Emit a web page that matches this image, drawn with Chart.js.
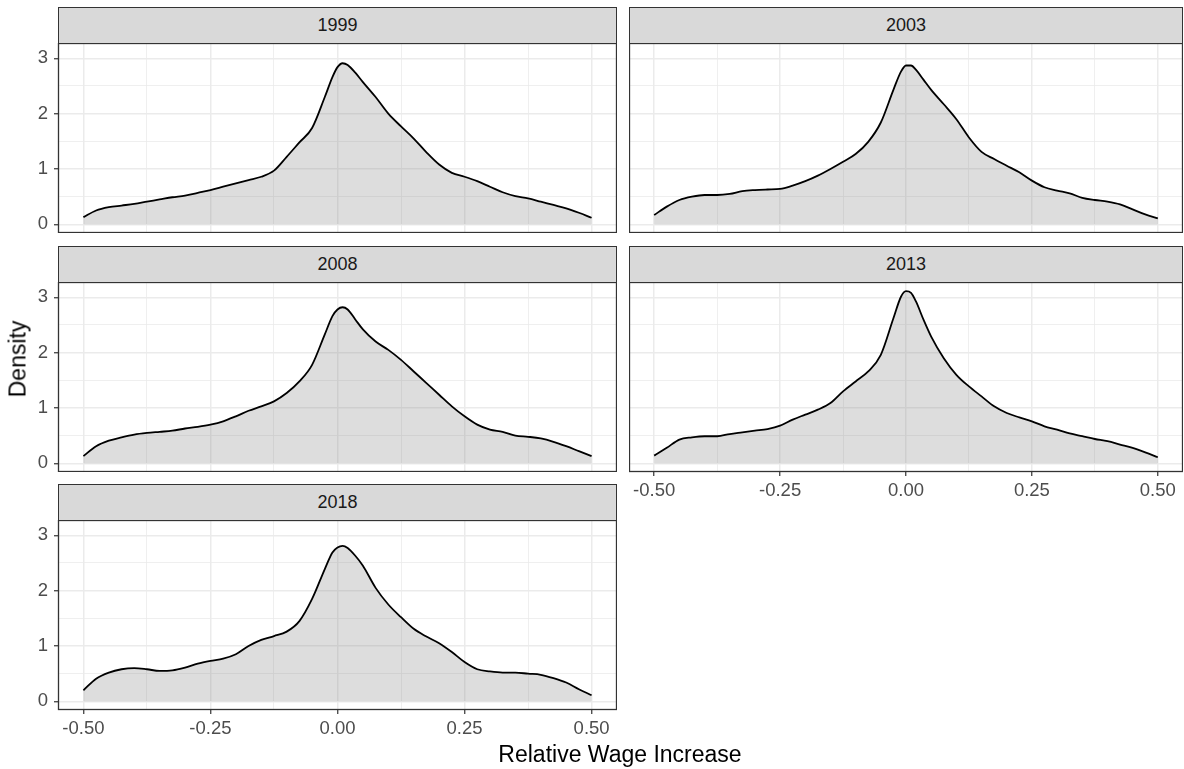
<!DOCTYPE html>
<html>
<head>
<meta charset="utf-8">
<script src="https://cdn.jsdelivr.net/npm/chart.js@4.4.1/dist/chart.umd.min.js"></script>
<style>
  body { margin: 0; background: #fff; font-family: "Liberation Sans", Arial, sans-serif; }
  #wrap { position: relative; width: 1184px; height: 769px; overflow: hidden; }
  canvas { position: absolute; }
  .strip { position: absolute; box-sizing: border-box; background: #d9d9d9; border: 1.3px solid #333;
           color: #1a1a1a; font-size: 18px; text-align: center; line-height: 34px; }
  .title { position: absolute; color: #000; font-size: 23px; white-space: nowrap; }
</style>
</head>
<body>
<div id="wrap"></div>
<script>
const xGrid = [-0.5, -0.475, -0.45, -0.425, -0.4, -0.375, -0.35, -0.325, -0.3, -0.275, -0.25, -0.225,
  -0.2, -0.175, -0.15, -0.125, -0.1, -0.075, -0.05, -0.025, -0.01, 0, 0.01, 0.02, 0.035, 0.05, 0.075,
  0.1, 0.125, 0.15, 0.175, 0.2, 0.225, 0.25, 0.275, 0.3, 0.325, 0.35, 0.375, 0.4, 0.425, 0.45, 0.475, 0.5];

const years = ['1999', '2003', '2008', '2013', '2018'];

const d1999 = [0.13, 0.25, 0.31, 0.34, 0.37, 0.41, 0.45, 0.49, 0.52, 0.57, 0.62, 0.68, 0.74, 0.80, 0.86,
  0.97, 1.22, 1.48, 1.74, 2.30, 2.66, 2.84, 2.91, 2.88, 2.74, 2.57, 2.30, 2.00, 1.77, 1.55, 1.30, 1.08,
  0.93, 0.86, 0.78, 0.68, 0.58, 0.51, 0.47, 0.41, 0.35, 0.29, 0.21, 0.12];
const d2003 = [0.17, 0.32, 0.44, 0.50, 0.53, 0.53, 0.55, 0.60, 0.62, 0.63, 0.64, 0.70, 0.78, 0.88, 1.00,
  1.13, 1.27, 1.49, 1.84, 2.43, 2.76, 2.87, 2.87, 2.79, 2.61, 2.43, 2.17, 1.90, 1.57, 1.31, 1.18, 1.06,
  0.94, 0.79, 0.67, 0.61, 0.56, 0.48, 0.44, 0.41, 0.36, 0.27, 0.18, 0.11];
const d2008 = [0.13, 0.31, 0.41, 0.47, 0.52, 0.55, 0.57, 0.59, 0.63, 0.66, 0.70, 0.76, 0.85, 0.95, 1.03,
  1.12, 1.27, 1.48, 1.78, 2.33, 2.66, 2.78, 2.82, 2.78, 2.60, 2.42, 2.20, 2.05, 1.87, 1.66, 1.45, 1.24,
  1.03, 0.85, 0.70, 0.61, 0.57, 0.50, 0.48, 0.45, 0.39, 0.31, 0.22, 0.13];
const d2013 = [0.14, 0.28, 0.43, 0.47, 0.49, 0.49, 0.53, 0.56, 0.59, 0.62, 0.68, 0.79, 0.88, 0.97, 1.09,
  1.30, 1.48, 1.66, 1.96, 2.62, 3.01, 3.11, 3.08, 2.92, 2.59, 2.29, 1.90, 1.60, 1.39, 1.21, 1.03, 0.91,
  0.83, 0.76, 0.67, 0.61, 0.54, 0.49, 0.44, 0.40, 0.34, 0.28, 0.20, 0.11];
const d2018 = [0.20, 0.41, 0.52, 0.58, 0.60, 0.58, 0.55, 0.56, 0.61, 0.68, 0.73, 0.77, 0.85, 1.00, 1.11,
  1.18, 1.26, 1.45, 1.85, 2.39, 2.69, 2.78, 2.81, 2.77, 2.63, 2.45, 2.05, 1.75, 1.52, 1.31, 1.17, 1.05,
  0.89, 0.71, 0.58, 0.54, 0.52, 0.52, 0.50, 0.48, 0.42, 0.34, 0.22, 0.11];

const xTicks = [-0.5, -0.375, -0.25, -0.125, 0, 0.125, 0.25, 0.375, 0.5];
const xMajor = [-0.5, -0.25, 0, 0.25, 0.5];
const yTicks = [0, 0.5, 1, 1.5, 2, 2.5, 3];
const yMajor = [0, 1, 2, 3];

const series = [d1999, d2003, d2008, d2013, d2018];

// layout of the facets (pixels)
const colLeft = [58, 629];
const colWidth = [559, 554];
const rowTop = [43, 282, 520];
const plotH = 190;
const stripH = 36;
const yAxisW = 58;
const xAxisH = 34;
const tickFont = { family: '"Liberation Sans", Arial, sans-serif', size: 18.5 };

const wrap = document.getElementById('wrap');

const panelBorder = {
  id: 'panelBorder',
  afterDraw(chart) {
    const { ctx, chartArea: a } = chart;
    ctx.save();
    ctx.strokeStyle = '#333333';
    ctx.lineWidth = 1.3;
    ctx.strokeRect(a.left + 0.5, a.top + 0.5, a.right - a.left - 1, a.bottom - a.top - 1);
    ctx.restore();
  }
};

function gridWidth(major) {
  return c => (c.tick && major.includes(c.tick.value)) ? 1.5 : 0.8;
}
function tickCol(major) {
  return c => (c.tick && major.includes(c.tick.value)) ? '#333333' : 'rgba(0,0,0,0)';
}

years.forEach((year, i) => {
  const col = i % 2;
  const row = Math.floor(i / 2);
  const showY = col === 0;
  const showX = (year === '2018' || year === '2013');
  const yw = showY ? yAxisW : 0;
  const xh = showX ? xAxisH : 0;

  const strip = document.createElement('div');
  strip.className = 'strip';
  strip.style.left = colLeft[col] + 'px';
  strip.style.top = (rowTop[row] - stripH) + 'px';
  strip.style.width = colWidth[col] + 'px';
  strip.style.height = (stripH + 1) + 'px';
  strip.textContent = year;
  wrap.appendChild(strip);

  const cv = document.createElement('canvas');
  cv.width = colWidth[col] + yw;
  cv.height = plotH + xh;
  cv.style.left = (colLeft[col] - yw) + 'px';
  cv.style.top = rowTop[row] + 'px';
  wrap.appendChild(cv);

  new Chart(cv, {
    type: 'line',
    data: {
      datasets: [{
        data: xGrid.map((x, k) => ({ x: x, y: series[i][k] })),
        borderColor: '#000000',
        borderWidth: 1.8,
        backgroundColor: 'rgba(128,128,128,0.27)',
        fill: 'origin',
        pointRadius: 0,
        cubicInterpolationMode: 'monotone'
      }]
    },
    options: {
      responsive: false,
      animation: false,
      devicePixelRatio: 1,
      layout: { padding: 0 },
      plugins: { legend: { display: false }, tooltip: { enabled: false } },
      scales: {
        x: {
          type: 'linear',
          min: -0.55,
          max: 0.55,
          afterBuildTicks: s => { s.ticks = xTicks.map(v => ({ value: v })); },
          afterFit: s => { s.height = xh; s.paddingLeft = 0; s.paddingRight = 0; },
          border: { display: false },
          grid: {
            color: '#ebebeb',
            lineWidth: gridWidth(xMajor),
            drawTicks: showX,
            tickLength: 4,
            tickColor: tickCol(xMajor),
            tickWidth: 1.2
          },
          ticks: {
            display: showX,
            autoSkip: false,
            maxRotation: 0,
            padding: 4,
            color: '#4d4d4d',
            font: tickFont,
            callback: v => xMajor.includes(v) ? v.toFixed(2) : ''
          }
        },
        y: {
          min: -0.156,
          max: 3.276,
          afterBuildTicks: s => { s.ticks = yTicks.map(v => ({ value: v })); },
          afterFit: s => { s.width = yw; s.paddingTop = 0; s.paddingBottom = 0; },
          border: { display: false },
          grid: {
            color: '#ebebeb',
            lineWidth: gridWidth(yMajor),
            drawTicks: showY,
            tickLength: 4,
            tickColor: tickCol(yMajor),
            tickWidth: 1.2
          },
          ticks: {
            display: showY,
            padding: 6,
            color: '#4d4d4d',
            font: tickFont,
            callback: v => yMajor.includes(v) ? String(v) : ''
          }
        }
      }
    },
    plugins: [panelBorder]
  });
});

const yTitle = document.createElement('div');
yTitle.className = 'title';
yTitle.textContent = 'Density';
yTitle.style.left = '18px';
yTitle.style.top = '359px';
yTitle.style.transform = 'translate(-50%, -50%) rotate(-90deg)';
wrap.appendChild(yTitle);

const xTitle = document.createElement('div');
xTitle.className = 'title';
xTitle.textContent = 'Relative Wage Increase';
xTitle.style.left = '620px';
xTitle.style.top = '754px';
xTitle.style.transform = 'translate(-50%, -50%)';
wrap.appendChild(xTitle);
</script>
</body>
</html>
